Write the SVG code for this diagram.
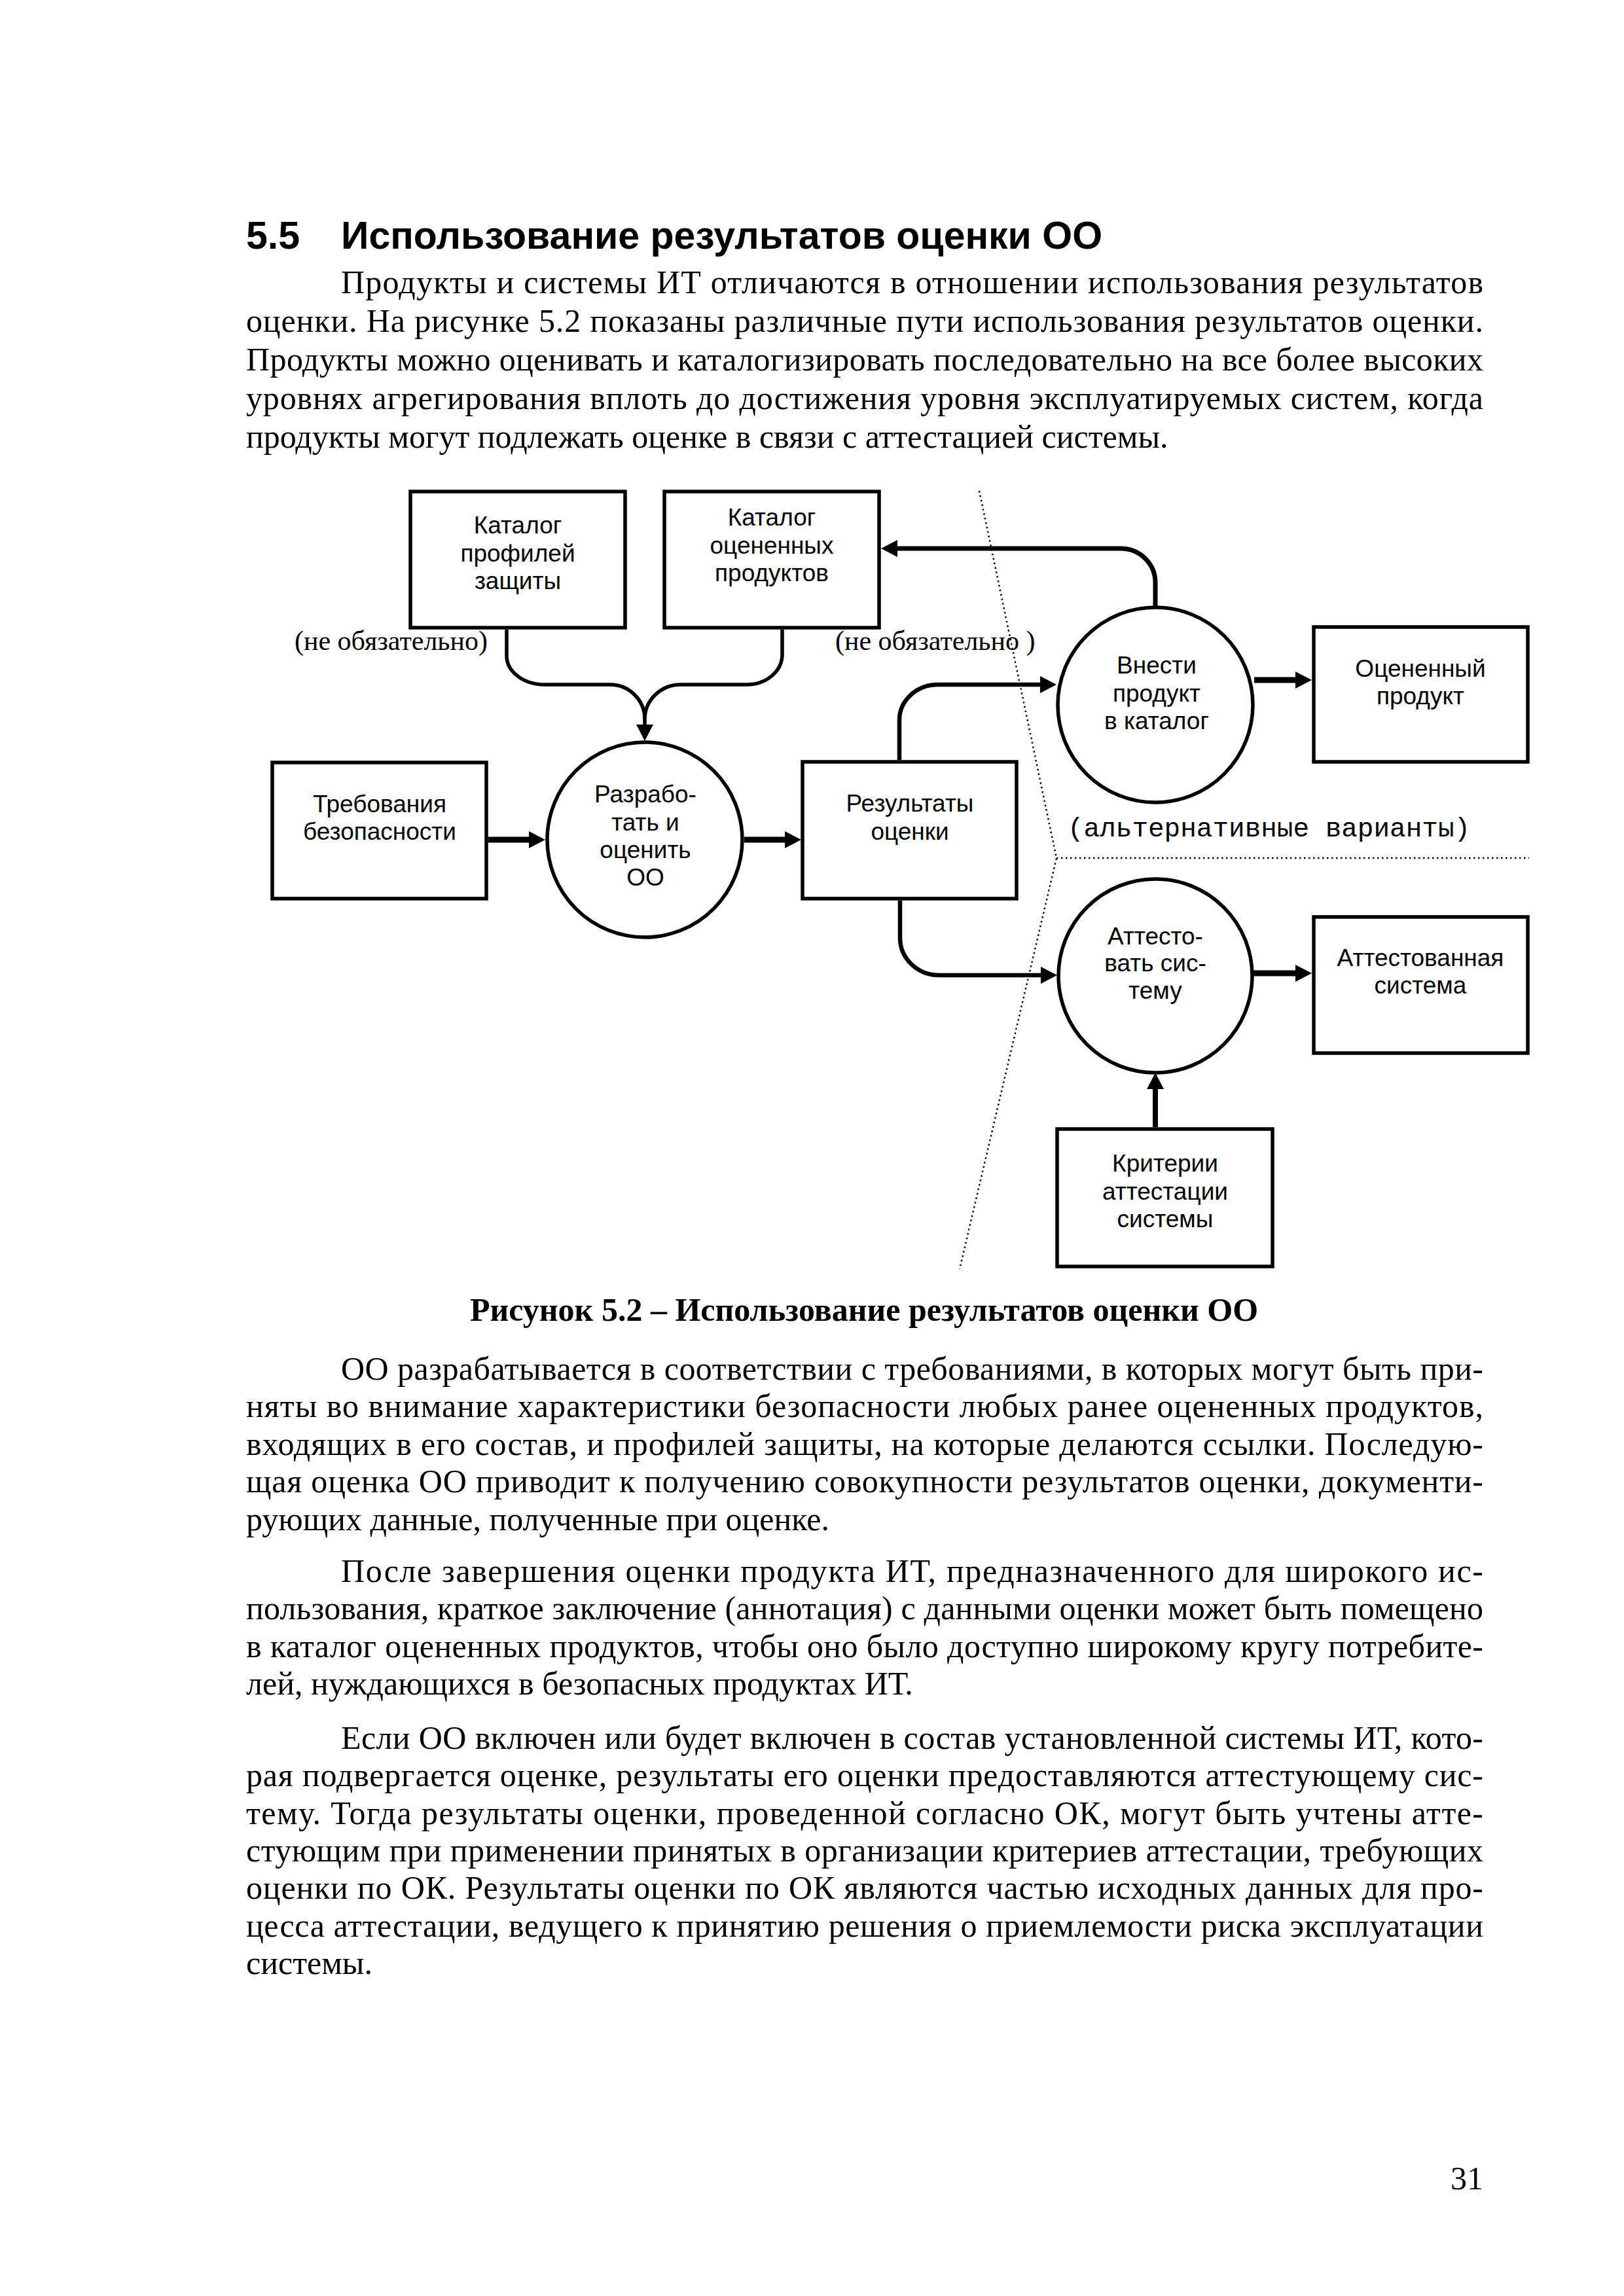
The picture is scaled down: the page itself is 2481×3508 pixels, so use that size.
<svg xmlns="http://www.w3.org/2000/svg" width="2481" height="3508" viewBox="0 0 2481 3508">
<style>
.bg{fill:#fff}
.box{fill:#fff;stroke:#000;stroke-width:5.5}
.nt{font-family:"Liberation Sans",Arial,sans-serif;font-size:37px;text-anchor:middle;fill:#000}
.body{font-family:"Liberation Serif","Times New Roman",serif;font-size:50px;fill:#000}
.note{font-family:"Liberation Serif","Times New Roman",serif;font-size:42px;fill:#000}
.mono{font-family:"Liberation Mono","Courier New",monospace;font-size:41px;fill:#000}
.title{font-family:"Liberation Sans",Arial,sans-serif;font-size:59px;font-weight:bold;fill:#000}
.cap{font-family:"Liberation Serif","Times New Roman",serif;font-size:50px;font-weight:bold;text-anchor:middle;fill:#000}
.c{fill:none;stroke:#000;stroke-width:5.5}
.thick{stroke-width:9}
.dot{fill:none;stroke:#000;stroke-width:2.5;stroke-dasharray:2.5 4.5}
</style>
<defs>
<marker id="arrow" markerUnits="userSpaceOnUse" markerWidth="25" markerHeight="26" viewBox="0 0 25 26" refX="0" refY="13" orient="auto">
<path d="M0,0 L25,13 L0,26 z" fill="#000"/>
</marker>
</defs>
<rect class="bg" x="0" y="0" width="2481" height="3508"/>

<g id="heading">
<text class="title" x="376" y="380">5.5</text>
<text class="title" x="521" y="380">Использование результатов оценки ОО</text>
</g>

<g id="para1" class="body">
<text x="521" y="448" textLength="1745" lengthAdjust="spacing">Продукты и системы ИТ отличаются в отношении использования результатов</text>
<text x="376" y="507" textLength="1890" lengthAdjust="spacing">оценки. На рисунке 5.2 показаны различные пути использования результатов оценки.</text>
<text x="376" y="566" textLength="1890" lengthAdjust="spacing">Продукты можно оценивать и каталогизировать последовательно на все более высоких</text>
<text x="376" y="625" textLength="1890" lengthAdjust="spacing">уровнях агрегирования вплоть до достижения уровня эксплуатируемых систем, когда</text>
<text x="376" y="684">продукты могут подлежать оценке в связи с аттестацией системы.</text>
</g>

<g id="separators">
<path class="dot" d="M1496,750 L1614,1311 L1466,1939"/>
<path class="dot" d="M1614,1311 L2336,1311"/>
<text class="mono" x="1631" y="1278">(альтернативные варианты)</text>
</g>

<g id="connectors">
<path class="c" d="M774,962 L774,1002 A58,44 0 0 0 832,1046 L932,1046 A53,53 0 0 1 985,1099 L985,1107" marker-end="url(#arrow)"/>
<path class="c" d="M1195,962 L1195,1000 A54,46 0 0 1 1141,1046 L1040,1046 A55,53 0 0 0 985,1099"/>
<path class="c thick" d="M746,1283 L808,1283" marker-end="url(#arrow)"/>
<path class="c thick" d="M1137,1283 L1199,1283" marker-end="url(#arrow)"/>
<path class="c" style="stroke-width:6.5" d="M1374,1161 L1374,1100 A59,54 0 0 1 1433,1046 L1589,1046" marker-end="url(#arrow)"/>
<path class="c" style="stroke-width:6.5" d="M1375,1376 L1375,1433 A60,57 0 0 0 1435,1490 L1590,1490" marker-end="url(#arrow)"/>
<path class="c" style="stroke-width:7" d="M1765,928 L1765,890 A53,52 0 0 0 1712,838 L1371,838" marker-end="url(#arrow)"/>
<path class="c thick" d="M1916,1039 L1979,1039" marker-end="url(#arrow)"/>
<path class="c thick" d="M1915,1487 L1979,1487" marker-end="url(#arrow)"/>
<path class="c" style="stroke-width:8" d="M1765,1722 L1765,1664" marker-end="url(#arrow)"/>
</g>

<g id="note-left"><text class="note" x="450" y="993">(не обязательно)</text></g>
<g id="note-right"><text class="note" x="1276" y="993" xml:space="preserve">(не обязательно )</text></g>

<g id="catalog-pp">
<rect class="box" x="627" y="751" width="328" height="208"/>
<text class="nt" x="791" y="815">Каталог</text>
<text class="nt" x="791" y="858">профилей</text>
<text class="nt" x="791" y="900">защиты</text>
</g>

<g id="catalog-products">
<rect class="box" x="1015" y="751" width="328" height="208"/>
<text class="nt" x="1179" y="803">Каталог</text>
<text class="nt" x="1179" y="846">оцененных</text>
<text class="nt" x="1179" y="888">продуктов</text>
</g>

<g id="requirements">
<rect class="box" x="416" y="1165" width="327" height="208"/>
<text class="nt" x="580" y="1241">Требования</text>
<text class="nt" x="580" y="1283">безопасности</text>
</g>

<g id="develop">
<circle class="box" cx="985" cy="1283" r="149"/>
<text class="nt" x="986" y="1226">Разрабо-</text>
<text class="nt" x="986" y="1269">тать и</text>
<text class="nt" x="986" y="1311">оценить</text>
<text class="nt" x="986" y="1353">ОО</text>
</g>

<g id="results">
<rect class="box" x="1226" y="1164" width="327" height="209"/>
<text class="nt" x="1390" y="1240">Результаты</text>
<text class="nt" x="1390" y="1283">оценки</text>
</g>

<g id="catalog-entry">
<circle class="box" cx="1765" cy="1077" r="149"/>
<text class="nt" x="1767" y="1029">Внести</text>
<text class="nt" x="1767" y="1072">продукт</text>
<text class="nt" x="1767" y="1114">в каталог</text>
</g>

<g id="evaluated-product">
<rect class="box" x="2007" y="958" width="327" height="206"/>
<text class="nt" x="2170" y="1034">Оцененный</text>
<text class="nt" x="2170" y="1076">продукт</text>
</g>

<g id="accredit">
<circle class="box" cx="1765" cy="1491" r="148"/>
<text class="nt" x="1765" y="1443">Аттесто-</text>
<text class="nt" x="1765" y="1484">вать сис-</text>
<text class="nt" x="1765" y="1526">тему</text>
</g>

<g id="accredited-system">
<rect class="box" x="2007" y="1401" width="327" height="208"/>
<text class="nt" x="2170" y="1476">Аттестованная</text>
<text class="nt" x="2170" y="1518">система</text>
</g>

<g id="criteria">
<rect class="box" x="1615" y="1725" width="329" height="210"/>
<text class="nt" x="1780" y="1790">Критерии</text>
<text class="nt" x="1780" y="1833">аттестации</text>
<text class="nt" x="1780" y="1875">системы</text>
</g>

<g id="caption"><text class="cap" x="1320" y="2018">Рисунок 5.2 – Использование результатов оценки ОО</text></g>

<g id="para2" class="body">
<text x="521" y="2108" textLength="1745" lengthAdjust="spacing">ОО разрабатывается в соответствии с требованиями, в которых могут быть при-</text>
<text x="376" y="2165" textLength="1890" lengthAdjust="spacing">няты во внимание характеристики безопасности любых ранее оцененных продуктов,</text>
<text x="376" y="2223" textLength="1890" lengthAdjust="spacing">входящих в его состав, и профилей защиты, на которые делаются ссылки. Последую-</text>
<text x="376" y="2280" textLength="1890" lengthAdjust="spacing">щая оценка ОО приводит к получению совокупности результатов оценки, документи-</text>
<text x="376" y="2338">рующих данные, полученные при оценке.</text>
</g>

<g id="para3" class="body">
<text x="521" y="2417" textLength="1745" lengthAdjust="spacing">После завершения оценки продукта ИТ, предназначенного для широкого ис-</text>
<text x="376" y="2474" textLength="1890" lengthAdjust="spacing">пользования, краткое заключение (аннотация) с данными оценки может быть помещено</text>
<text x="376" y="2532" textLength="1890" lengthAdjust="spacing">в каталог оцененных продуктов, чтобы оно было доступно широкому кругу потребите-</text>
<text x="376" y="2589">лей, нуждающихся в безопасных продуктах ИТ.</text>
</g>

<g id="para4" class="body">
<text x="521" y="2672" textLength="1745" lengthAdjust="spacing">Если ОО включен или будет включен в состав установленной системы ИТ, кото-</text>
<text x="376" y="2729" textLength="1890" lengthAdjust="spacing">рая подвергается оценке, результаты его оценки предоставляются аттестующему сис-</text>
<text x="376" y="2787" textLength="1890" lengthAdjust="spacing">тему. Тогда результаты оценки, проведенной согласно ОК, могут быть учтены атте-</text>
<text x="376" y="2844" textLength="1890" lengthAdjust="spacing">стующим при применении принятых в организации критериев аттестации, требующих</text>
<text x="376" y="2901" textLength="1890" lengthAdjust="spacing">оценки по ОК. Результаты оценки по ОК являются частью исходных данных для про-</text>
<text x="376" y="2959" textLength="1890" lengthAdjust="spacing">цесса аттестации, ведущего к принятию решения о приемлемости риска эксплуатации</text>
<text x="376" y="3016">системы.</text>
</g>

<g id="page-number"><text class="body" x="2266" y="3345" text-anchor="end">31</text></g>
</svg>
